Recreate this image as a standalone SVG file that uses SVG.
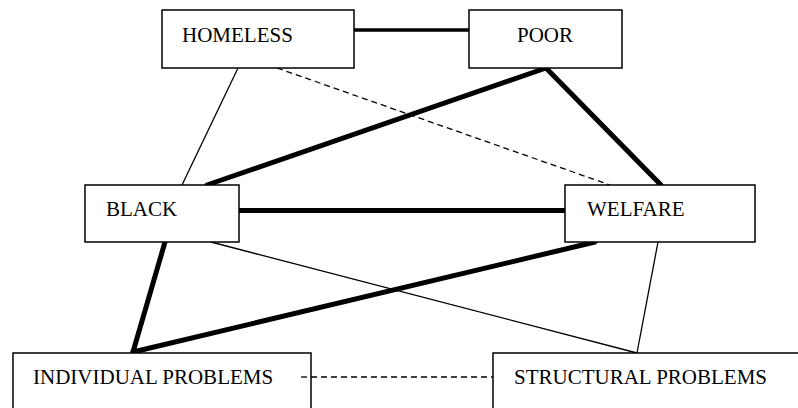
<svg xmlns="http://www.w3.org/2000/svg" width="798" height="408" viewBox="0 0 798 408">
<style>
.box{fill:#fff;stroke:#000;stroke-width:1.5}
.lbl{font-family:"Liberation Serif","Times New Roman",serif;font-size:21px;fill:#000}
.thin{stroke:#000;stroke-width:1.3;fill:none}
.dash{stroke:#000;stroke-width:1.3;stroke-dasharray:6,4;fill:none}
.thick{stroke:#000;stroke-width:5;fill:none;stroke-linecap:round}
.mid{stroke:#000;stroke-width:3.5;fill:none}
</style>
<rect width="798" height="408" fill="#fff"/>
<g id="connectors">
<line class="mid" x1="354" y1="30" x2="469" y2="30"/>
<line class="thin" x1="238" y1="68" x2="182" y2="185"/>
<line class="dash" x1="277" y1="68" x2="610" y2="185"/>
<line class="thick" x1="546" y1="68" x2="207" y2="185"/>
<line class="thick" x1="546" y1="68" x2="661" y2="185"/>
<line class="thick" x1="239" y1="210.5" x2="565" y2="210.5"/>
<line class="thick" x1="165" y1="242" x2="133" y2="352"/>
<line class="thick" x1="595" y1="242" x2="133" y2="352"/>
<line class="thin" x1="211" y1="242" x2="637" y2="353"/>
<line class="thin" x1="658" y1="242" x2="637" y2="353"/>
<line class="dash" x1="301" y1="377" x2="493" y2="377"/>
</g>
<g id="homeless"><rect class="box" x="162" y="10" width="192" height="58"/><text class="lbl" x="182" y="42">HOMELESS</text></g>
<g id="poor"><rect class="box" x="469" y="10" width="153" height="58"/><text class="lbl" x="517" y="42">POOR</text></g>
<g id="black"><rect class="box" x="85" y="185" width="154" height="57"/><text class="lbl" x="106" y="216">BLACK</text></g>
<g id="welfare"><rect class="box" x="565" y="185" width="190" height="57"/><text class="lbl" x="587" y="216">WELFARE</text></g>
<g id="individual"><rect class="box" x="13" y="353" width="298" height="70"/><text class="lbl" x="33" y="384">INDIVIDUAL PROBLEMS</text></g>
<g id="structural"><rect class="box" x="493" y="353" width="320" height="70"/><text class="lbl" x="514" y="384">STRUCTURAL PROBLEMS</text></g>
<line class="dash" x1="301" y1="377" x2="311" y2="377"/>
</svg>
